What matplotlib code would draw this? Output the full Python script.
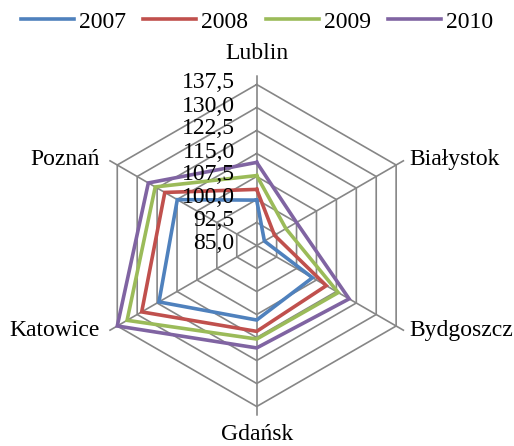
import numpy as np
import matplotlib
matplotlib.use("Agg")
import matplotlib.pyplot as plt

plt.rcParams["font.family"] = ["Liberation Serif", "DejaVu Serif"]

# data
cities = ["Lublin", "Białystok", "Bydgoszcz", "Gdańsk", "Katowice", "Poznań"]
years = ["2007", "2008", "2009", "2010"]
v2007 = [99.8, 87.9, 106.0, 109.3, 121.8, 114.9]
v2008 = [103.3, 91.7, 111.2, 113.0, 128.3, 119.6]
v2009 = [107.8, 96.0, 115.7, 115.5, 133.8, 123.2]
v2010 = [112.1, 100.0, 119.8, 118.4, 137.5, 125.8]
ring_values = [85.0, 92.5, 100.0, 107.5, 115.0, 122.5, 130.0, 137.5]

series = [v2007, v2008, v2009, v2010]
colors = ["#4F81BD", "#C0504D", "#9BBB59", "#8064A2"]
grid_color = "#868686"
fs = 17

W, H = 514, 446
fig = plt.figure(figsize=(W / 100, H / 100), dpi=100)

# polar axes placed so the hexagon sits where it does in the reference
cx, cy = 256.7, 245.5
r_top = 140.5
rad_px = 161 * (r_top - 85) / 52.5
ax = fig.add_axes([(cx - rad_px) / W, (H - cy - rad_px) / H,
                   2 * rad_px / W, 2 * rad_px / H], projection="polar")
ax.set_theta_zero_location("N")
ax.set_theta_direction(-1)
ax.set_ylim(ring_values[0], r_top)
ax.set_facecolor("none")
ax.spines["polar"].set_visible(False)

angles = np.linspace(0, 2 * np.pi, len(cities), endpoint=False)
closed = np.append(angles, angles[0])

ax.set_xticks(angles)
ax.set_xticklabels([])
ax.set_yticks([])
ax.xaxis.grid(True, color=grid_color, linewidth=1.2)

# hexagonal rings
for v in ring_values[1:]:
    ax.plot(closed, [v] * len(closed), color=grid_color, linewidth=1.2, zorder=1)

# series
for name, vals, c in zip(years, series, colors):
    ax.plot(closed, vals + vals[:1], color=c, linewidth=2.6, label=name,
            zorder=3, solid_joinstyle="miter")

# value labels along the Lublin axis
for v in ring_values:
    ax.annotate(f"{v:.1f}".replace(".", ","), xy=(0, v), xytext=(-22, 1.5),
                textcoords="offset pixels", ha="right", va="center",
                fontsize=fs, annotation_clip=False, zorder=4)

# category labels
offsets = [(0, 31, "center"), (13, 6, "left"), (13, -5, "left"),
           (0, -28, "center"), (-18, -5, "right"), (-18, 6, "right")]
for name, a, (dx, dy, ha) in zip(cities, angles, offsets):
    ax.annotate(name, xy=(a, ring_values[-1]), xytext=(dx, dy),
                textcoords="offset pixels", ha=ha, va="center",
                fontsize=fs, annotation_clip=False)

fig.legend(loc="center", bbox_to_anchor=(0.5, 1 - 22 / H), ncol=4,
           frameon=False, fontsize=fs, handlelength=2.25, handletextpad=0.2,
           columnspacing=0.75, borderaxespad=0)

fig.savefig("out.png", dpi=100)
